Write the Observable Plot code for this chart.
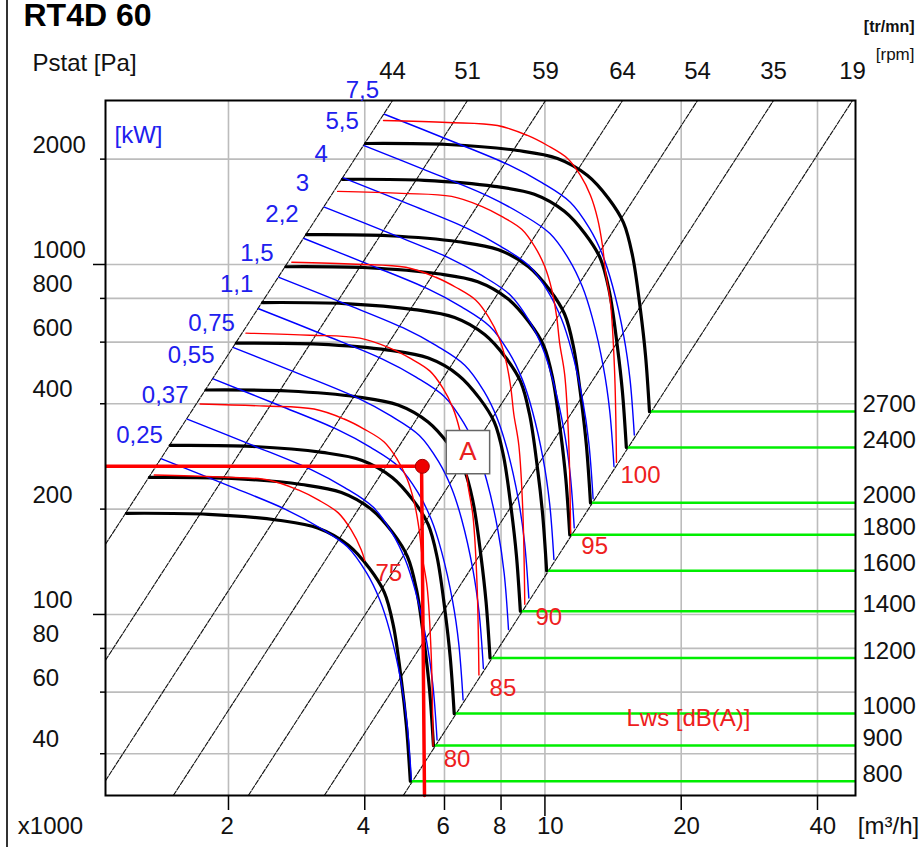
<!DOCTYPE html>
<html><head><meta charset="utf-8">
<script src="https://cdn.jsdelivr.net/npm/d3@7"></script>
<script src="https://cdn.jsdelivr.net/npm/@observablehq/plot@0.6"></script>
<style>
html,body{margin:0;padding:0;background:#fff;}
#wrap{position:relative;width:919px;height:847px;overflow:hidden;background:#fff;}
#edge{position:absolute;left:6px;top:0;width:2px;height:847px;background:#333;}
</style></head>
<body><div id="wrap"><div id="edge"></div></div>
<script>
// ---------- DATA (flow q in 1000 m3/h, static pressure p in Pa) ----------
const xTicks = [2, 4, 6, 8, 10, 20, 40];
const yTicks = [40, 60, 80, 100, 200, 400, 600, 800, 1000, 2000];
const yTickLabels = ["40", "60", "80", "100", "200", "400", "600", "800", "1000", "2000"];
const rpmValues = [800, 900, 1000, 1200, 1400, 1600, 1800, 2000, 2400, 2700];

// fan speed curves (black)
const n800 = [[1.190,194.6],[1.805,193.3],[2.577,185.9],[3.159,176.4],[3.680,157.7],[4.095,135.5],[4.418,115.7],[4.625,93.1],[4.818,64.9],[4.942,48.3],[5.043,33.4]];
const n900 = [[1.338,246.3],[2.031,244.7],[2.899,235.2],[3.553,223.2],[4.140,199.6],[4.607,171.6],[4.970,146.4],[5.203,117.9],[5.420,82.1],[5.560,61.1],[5.673,42.2]];
const n1000 = [[1.487,304.1],[2.257,302.1],[3.221,290.4],[3.948,275.6],[4.600,246.4],[5.119,211.8],[5.522,180.8],[5.781,145.5],[6.022,101.4],[6.178,75.4],[6.304,52.1]];
const n1200 = [[1.784,437.9],[2.708,435.0],[3.866,418.2],[4.738,396.8],[5.520,354.8],[6.142,305.0],[6.627,260.3],[6.938,209.6],[7.227,146.0],[7.413,108.6],[7.564,75.1]];
const n1400 = [[2.082,596.1],[3.159,592.0],[4.510,569.2],[5.527,540.1],[6.440,482.9],[7.166,415.1],[7.731,354.4],[8.094,285.3],[8.431,198.7],[8.649,147.9],[8.825,102.2]];
const n1600 = [[2.379,778.5],[3.611,773.3],[5.154,743.4],[6.317,705.5],[7.360,630.7],[8.190,542.2],[8.836,462.8],[9.250,372.6],[9.636,259.5],[9.884,193.1],[10.086,133.4]];
const n1800 = [[2.677,985.3],[4.062,978.7],[5.799,940.9],[7.107,892.9],[8.280,798.2],[9.213,686.2],[9.940,585.8],[10.407,471.6],[10.840,328.4],[11.120,244.4],[11.347,168.9]];
const n2000 = [[2.974,1216.5],[4.513,1208.2],[6.443,1161.6],[7.896,1102.3],[9.200,985.5],[10.237,847.2],[11.044,723.2],[11.563,582.2],[12.044,405.5],[12.356,301.8],[12.607,208.5]];
const n2400 = [[3.569,1751.7],[5.416,1739.9],[7.732,1672.7],[9.476,1587.4],[11.040,1419.1],[12.284,1220.0],[13.253,1041.4],[13.876,838.3],[14.453,583.9],[14.827,434.6],[15.129,300.2]];
const n2700 = [[4.015,2217],[6.093,2202],[8.698,2117],[10.66,2009],[12.42,1796],[13.82,1544],[14.91,1318],[15.61,1061],[16.26,739],[16.68,550],[17.02,380]];
const speedCurves = [n800, n900, n1000, n1200, n1400, n1600, n1800, n2000, n2400, n2700];

// shaft power curves (blue), kW
const kwLabels = ["7,5", "5,5", "4", "3", "2,2", "1,5", "1,1", "0,75", "0,55", "0,37", "0,25"];
const kw7_5 = [[4.421,2687.6],[6.174,2260.9],[8.302,1928.7],[9.846,1713.9],[11.377,1507.0],[12.537,1270.6],[13.405,1065.4],[14.110,866.9],[14.937,623.6],[15.416,469.8],[15.755,325.6]];
const kw5_5 = [[3.987,2185.6],[5.568,1838.6],[7.487,1568.4],[8.879,1393.8],[10.259,1225.5],[11.306,1033.3],[12.088,866.4],[12.724,705.0],[13.470,507.1],[13.902,382.0],[14.208,264.8]];
const kw4 = [[3.585,1767.5],[5.007,1486.9],[6.733,1268.4],[7.985,1127.2],[9.226,991.1],[10.167,835.6],[10.871,700.7],[11.443,570.1],[12.113,410.1],[12.502,309.0],[12.777,214.1]];
const kw3 = [[3.257,1459.0],[4.549,1227.4],[6.117,1047.0],[7.255,930.4],[8.383,818.1],[9.237,689.8],[9.877,578.4],[10.396,470.6],[11.006,338.5],[11.359,255.0],[11.608,176.8]];
const kw2_2 = [[2.937,1186.5],[4.102,998.1],[5.516,851.5],[6.542,756.7],[7.559,665.3],[8.330,560.9],[8.907,470.4],[9.375,382.7],[9.925,275.3],[10.243,207.4],[10.468,143.7]];
const kw1_5 = [[2.585,919.2],[3.611,773.2],[4.855,659.6],[5.758,586.2],[6.653,515.4],[7.332,434.5],[7.839,364.4],[8.252,296.5],[8.735,213.3],[9.015,160.7],[9.214,111.4]];
const kw1_1 = [[2.331,747.5],[3.256,628.8],[4.378,536.4],[5.192,476.7],[6.000,419.1],[6.612,353.4],[7.069,296.3],[7.441,241.1],[7.877,173.4],[8.130,130.7],[8.309,90.6]];
const kw0_75 = [[2.052,579.0],[2.866,487.1],[3.853,415.5],[4.570,369.2],[5.281,324.7],[5.819,273.7],[6.222,229.5],[6.549,186.8],[6.933,134.3],[7.155,101.2],[7.313,70.1]];
const kw0_55 = [[1.850,470.9],[2.584,396.1],[3.475,337.9],[4.121,300.3],[4.762,264.0],[5.248,222.6],[5.611,186.7],[5.906,151.9],[6.252,109.3],[6.453,82.3],[6.595,57.0]];
const kw0_37 = [[1.621,361.5],[2.264,304.1],[3.045,259.4],[3.611,230.5],[4.173,202.7],[4.598,170.9],[4.916,143.3],[5.175,116.6],[5.478,83.9],[5.654,63.2],[5.778,43.8]];
const kw0_25 = [[1.423,278.4],[1.987,234.2],[2.672,199.8],[3.169,177.5],[3.661,156.1],[4.035,131.6],[4.314,110.3],[4.541,89.8],[4.807,64.6],[4.961,48.7],[5.070,33.7]];
const powerCurves = [kw7_5, kw5_5, kw4, kw3, kw2_2, kw1_5, kw1_1, kw0_75, kw0_55, kw0_37, kw0_25];

// sound power curves (red), Lws dB(A)
const dbLabels = ["100", "95", "90", "85", "80", "75"];
const db100 = [[4.400,2579],[6.093,2545],[7.857,2495],[9.152,2337],[10.13,2188],[11.22,2009],[11.98,1796],[12.61,1575],[13.07,1353],[13.40,1133],[13.61,949],[13.96,774],[14.25,498],[14.39,272]];
const db95 = [[3.485,1617.7],[4.826,1596.4],[6.223,1565.0],[7.248,1465.9],[8.023,1372.5],[8.886,1260.2],[9.488,1126.6],[9.987,987.9],[10.351,848.7],[10.613,710.7],[10.779,595.3],[11.056,485.5],[11.286,312.4],[11.397,170.6]];
const db90 = [[2.760,1014.7],[3.822,1001.4],[4.928,981.7],[5.741,919.5],[6.354,860.9],[7.038,790.5],[7.515,706.7],[7.910,619.7],[8.198,532.3],[8.405,445.8],[8.537,373.4],[8.757,304.5],[8.939,195.9],[9.026,107.0]];
const db85 = [[2.186,636.5],[3.027,628.1],[3.903,615.8],[4.547,576.8],[5.033,540.0],[5.574,495.8],[5.952,443.3],[6.265,388.7],[6.493,333.9],[6.657,279.6],[6.761,234.2],[6.935,191.0],[7.079,122.9],[7.149,67.1]];
const db80 = [[1.731,399.3],[2.397,394.0],[3.091,386.3],[3.601,361.8],[3.986,338.7],[4.415,311.0],[4.714,278.0],[4.962,243.8],[5.143,209.5],[5.272,175.4],[5.355,146.9],[5.493,119.8],[5.607,77.1],[5.662,42.1]];
const db75 = [[1.371,250.4],[1.899,247.1],[2.448,242.3],[2.852,226.9],[3.157,212.5],[3.496,195.1],[3.733,174.4],[3.930,152.9],[4.000,142.5]];
const soundCurves = [db100, db95, db90, db85, db80, db75];

// system lines (p ~ q^2) and their efficiency labels at the top edge
const effLabels = [44, 51, 59, 64, 54, 35, 19];
const sysLine1 = [[1.070,158.7],[4.606,2941]];
const sysLine2 = [[1.070,74.0],[6.744,2941]];
const sysLine3 = [[1.070,33.5],[10.03,2941]];
const sysLine4 = [[1.511,30.4],[14.84,2941]];
const sysLine5 = [[2.213,30.4],[21.73,2941]];
const sysLine6 = [[3.257,30.4],[31.98,2941]];
const sysLine7 = [[4.867,30.4],[47.79,2941]];
const systemLines = [sysLine1, sysLine2, sysLine3, sysLine4, sysLine5, sysLine6, sysLine7];

// operating point A
const opPoint = {q: 5.36, p: 265};
const opDrop = [[5.34, 265], [5.42, 30.4]];
const labelA = {q: 6.76, p: 291, text: "A"};

// ---------- CHART ----------
const xDomain = [1.07, 48.53];
const yDomain = [30.39, 2941.6];
const font = "'Liberation Sans', Arial, Helvetica, sans-serif";

const toRows = (curves) => curves.flatMap((pts, i) => pts.map(([q, p]) => ({q, p, id: i})));
const speedRows = toRows(speedCurves);
const powerRows = toRows(powerCurves);
const soundRows = toRows(soundCurves);
const sysRows = toRows(systemLines);
const greenRows = speedCurves.map((pts, i) => ({rpm: rpmValues[i], q: pts[pts.length - 1][0], p: pts[pts.length - 1][1]}));
const effRows = systemLines.map((pts, i) => ({eff: effLabels[i], q: pts[1][0]}));
const kwRows = powerCurves.map((pts, i) => ({q: pts[0][0], p: pts[0][1], t: kwLabels[i]}));
const dbRows = soundCurves.map((pts, i) => ({q: pts[pts.length - 1][0], p: pts[pts.length - 1][1], t: dbLabels[i]}));

const T = (opts) => Object.assign({fontFamily: font, fontSize: 24, textAnchor: "middle"}, opts);

const chart = Plot.plot({
  width: 919, height: 847,
  marginLeft: 105, marginRight: 64, marginTop: 100, marginBottom: 52,
  x: {type: "log", domain: xDomain, label: null},
  y: {type: "log", domain: yDomain, label: null},
  style: {fontFamily: font, fontSize: "24px", background: "transparent", color: "black", overflow: "visible"},
  marks: [
    Plot.ruleX(xTicks, {x: d => d, stroke: "#bcbcbc", strokeWidth: 1.6}),
    Plot.ruleY(yTicks, {y: d => d, stroke: "#bcbcbc", strokeWidth: 1.6}),
    Plot.line(sysRows, {x: "q", y: "p", z: "id", stroke: "#111", strokeWidth: 1.1, strokeDasharray: "5,1.5", clip: true}),
    Plot.ruleY(greenRows, {y: "p", x1: "q", x2: () => xDomain[1], stroke: "#00ee00", strokeWidth: 2.5}),
    Plot.line(speedRows, {x: "q", y: "p", z: "id", stroke: "black", strokeWidth: 3.2, curve: "catmull-rom", clip: true}),
    Plot.line(powerRows, {x: "q", y: "p", z: "id", stroke: "#0000ff", strokeWidth: 1.4, curve: "catmull-rom", clip: true}),
    Plot.line(soundRows, {x: "q", y: "p", z: "id", stroke: "#ff0000", strokeWidth: 1.4, curve: "catmull-rom", clip: true}),
    Plot.ruleY([opPoint], {y: "p", x1: () => xDomain[0], x2: "q", stroke: "#ff0000", strokeWidth: 3.5}),
    Plot.line(opDrop, {x: d => d[0], y: d => d[1], stroke: "#ff0000", strokeWidth: 3.5}),
    Plot.dot([opPoint], {x: "q", y: "p", r: 7, fill: "#ee0000", stroke: "#a00000", strokeWidth: 1}),
    Plot.dot([labelA], {x: "q", y: "p", r: 24.5, symbol: "square", fill: "white", stroke: "#666", strokeWidth: 1.5}),
    Plot.text([labelA], T({x: "q", y: "p", text: "text", fill: "#e82020", fontSize: 26})),
    Plot.frame({stroke: "black", strokeWidth: 2}),
    // ticks
    Plot.axisX([2, 4, 6, 8, 20, 40], {tickSize: 15, tickFormat: () => "", label: null, stroke: "black", strokeWidth: 1.5}),
    Plot.axisX([10], {tickSize: 21, tickFormat: () => "", label: null, stroke: "black", strokeWidth: 1.5}),
    Plot.axisY([40, 60, 80, 200, 400, 600, 800, 2000], {tickSize: 5, tickFormat: () => "", label: null, stroke: "black", strokeWidth: 1.5}),
    Plot.axisY([100, 1000], {tickSize: 12, tickFormat: () => "", label: null, stroke: "black", strokeWidth: 1.5}),
    // tick labels
    Plot.text(yTicks, T({y: d => d, text: (d, i) => yTickLabels[i], frameAnchor: "left", textAnchor: "start", dx: -73, dy: -14, fill: "#111"})),
    Plot.text(xTicks, T({x: d => d, text: d => String(d), frameAnchor: "bottom", textAnchor: "start", dx: -8, dy: 38, fill: "#111"})),
    Plot.text(["x1000"], T({text: d => d, frameAnchor: "bottom-left", dx: -55, dy: 38, fill: "#111"})),
    Plot.text(["[m³/h]"], T({text: d => d, frameAnchor: "bottom-right", dx: 33, dy: 38, fill: "#111"})),
    Plot.text(effRows, T({x: "q", text: d => String(d.eff), frameAnchor: "top", dy: -39, fill: "#111"})),
    Plot.text(greenRows, T({y: "p", text: d => String(d.rpm), frameAnchor: "right", textAnchor: "start", dx: 7, dy: -7, fill: "#111"})),
    Plot.text(["Pstat [Pa]"], T({text: d => d, frameAnchor: "top-left", textAnchor: "start", dx: -73, dy: -47, fill: "#111"})),
    Plot.text(["RT4D 60"], T({text: d => d, frameAnchor: "top-left", textAnchor: "start", lineAnchor: "bottom", dx: -82, dy: -75, fontWeight: "bold", fontSize: 32, fill: "#000"})),
    Plot.text(["[rpm]"], T({text: d => d, frameAnchor: "top-right", textAnchor: "end", dx: 59, dy: -53, fontSize: 17, fill: "#111"})),
    Plot.text(["[tr/mn]"], T({text: d => d, frameAnchor: "top-right", textAnchor: "end", dx: 59, dy: -80, fontSize: 16, fontWeight: "bold", fill: "#111"})),
    Plot.text(["[kW]"], T({text: d => d, frameAnchor: "top-left", dx: 33, dy: 25, fill: "#2020ee"})),
    Plot.text(kwRows, T({x: "q", y: "p", text: "t", dx: -22, dy: -24, fill: "#2020ee"})),
    Plot.text(dbRows, T({x: "q", y: "p", text: "t", dx: 24, dy: 13, fill: "#ee2020"})),
    Plot.text(["Lws [dB(A)]"], T({text: d => d, frameAnchor: "bottom-right", dx: -167, dy: -70, fill: "#ee2020"}))
  ]
});
document.getElementById("wrap").appendChild(chart);
chart.style.position = "absolute";
chart.style.left = "0";
chart.style.top = "0";
</script>
</body></html>
